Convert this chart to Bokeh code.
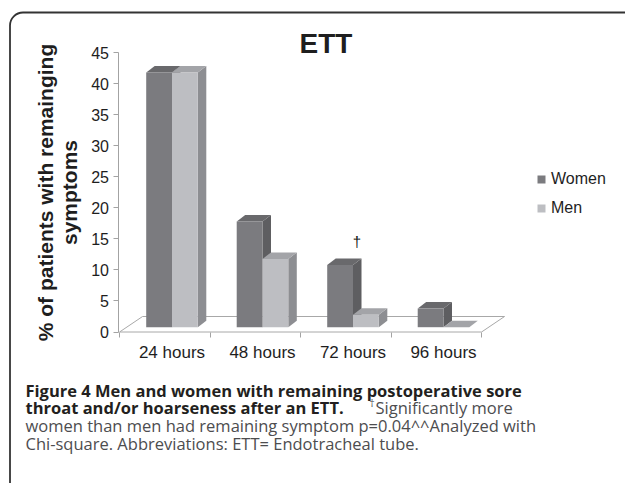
import math
from bokeh.plotting import figure
from bokeh.models import (Range1d, LinearAxis, FixedTicker, Label, BoxAnnotation,
                          Legend, LegendItem, ColumnDataSource)
from bokeh.embed import file_html
from bokeh.resources import INLINE

# ---------------- data ----------------
categories = ["24 hours", "48 hours", "72 hours", "96 hours"]
women = [41, 17, 10, 3]
men = [41, 11, 2, 0]
y_ticks = [0, 5, 10, 15, 20, 25, 30, 35, 40, 45]
series_names = ["Women", "Men"]
title_text = "ETT"
y_label_lines = ["% of patients with remainging", "symptoms"]
sig_mark = "\u2020"
caption_bold_1 = "Figure 4 Men and women with remaining postoperative sore"
caption_bold_2 = "throat and/or hoarseness after an ETT."
caption_reg_2 = "Significantly more"
caption_reg_3 = "women than men had remaining symptom p=0.04^^Analyzed with"
caption_reg_4 = "Chi-square. Abbreviations: ETT= Endotracheal tube."

# ---------------- layout / style ----------------
W, H = 625, 483
PX_X = 90.5               # px per category
PX_Y = 279.5 / 45.0       # px per percent
X0_PAGE = 126.25          # page x of data x = 0
Y0_PAGE = 331.5           # page y of data y = 0

xlo = -X0_PAGE / PX_X
xhi = (W - X0_PAGE) / PX_X
yhi = Y0_PAGE / PX_Y
ylo = -(H - Y0_PAGE) / PX_Y

FONT = "Liberation Sans"
CAP_FONT = "Open Sans"
TXT = "#1e1e1e"
AX = "#a3a3a3"

BAR_W = 0.285
BASE = 4.8 / PX_Y          # bars stand slightly behind floor front edge
SHIFT = 7.2 / PX_X
DDX = 8.5 / PX_X           # bar depth
DDY = 6.5 / PX_Y
FDX = 23.0 / PX_X          # floor depth
FDY = 15.5 / PX_Y
FLOOR_X0 = -SHIFT
YAXIS_AT = (117.5 - X0_PAGE) / PX_X
XAXIS_AT = -(332.0 - Y0_PAGE) / PX_Y

W_FRONT, W_TOP, W_SIDE = "#7b7b7f", "#69696c", "#5e5e61"
M_FRONT, M_TOP, M_SIDE = "#bdbec2", "#a3a4a8", "#8d8e92"


def sx(px):
    return px


def sy(py):
    return H - py


p = figure(width=W, height=H, x_range=Range1d(xlo, xhi), y_range=Range1d(ylo, yhi),
           output_backend="svg", toolbar_location=None,
           min_border_left=0, min_border_right=0, min_border_top=0, min_border_bottom=0,
           x_axis_location=None, y_axis_location=None)
p.xgrid.visible = False
p.ygrid.visible = False
p.outline_line_color = None
p.background_fill_color = "white"
p.border_fill_color = "white"

# y axis
yaxis = LinearAxis(bounds=(0, 45), fixed_location=YAXIS_AT,
                   ticker=FixedTicker(ticks=y_ticks, minor_ticks=[]))
yaxis.axis_line_color = AX
yaxis.major_tick_line_color = AX
yaxis.major_tick_out = 5
yaxis.major_tick_in = 0
yaxis.minor_tick_line_color = None
yaxis.major_label_standoff = 4
yaxis.major_label_text_font = FONT
yaxis.major_label_text_font_size = "16px"
yaxis.major_label_text_color = TXT
p.add_layout(yaxis, "left")

# x axis
n = len(categories)
centers = [i + 0.5 for i in range(n)]
bounds = [FLOOR_X0 + i for i in range(n + 1)]
xaxis = LinearAxis(fixed_location=XAXIS_AT,
                   ticker=FixedTicker(ticks=centers, minor_ticks=bounds),
                   major_label_overrides={c: lab for c, lab in zip(centers, categories)})
xaxis.axis_line_color = None
xaxis.major_tick_line_color = None
xaxis.major_tick_out = 0
xaxis.major_tick_in = 0
xaxis.minor_tick_line_color = AX
xaxis.minor_tick_out = 5
xaxis.minor_tick_in = 0
xaxis.major_label_standoff = 5
xaxis.major_label_text_font = FONT
xaxis.major_label_text_font_size = "17px"
xaxis.major_label_text_color = TXT
p.add_layout(xaxis, "below")

# floor
p.patch([FLOOR_X0, FLOOR_X0 + n, FLOOR_X0 + n + FDX, FLOOR_X0 + FDX],
        [0, 0, FDY, FDY], fill_color="white", line_color="#a8a8a8", line_width=1)


def bar_sources(values, offset):
    left = [i + 0.5 + offset for i in range(len(values))]
    right = [l + BAR_W for l in left]
    top = [BASE + v for v in values]
    front = ColumnDataSource(dict(left=left, right=right, bottom=[BASE] * len(values), top=top))
    top_xs = [[l, r, r + DDX, l + DDX] for l, r in zip(left, right)]
    top_ys = [[t, t, t + DDY, t + DDY] for t in top]
    side_xs = [[r, r, r + DDX, r + DDX] for r in right]
    side_ys = [[BASE, t, t + DDY, BASE + DDY] for t in top]
    return front, (top_xs, top_ys), (side_xs, side_ys)


renderers = []
for vals, off, (cf, ct, cs) in [(women, -BAR_W, (W_FRONT, W_TOP, W_SIDE)),
                               (men, 0.0, (M_FRONT, M_TOP, M_SIDE))]:
    front, (txs, tys), (sxs, sys_) = bar_sources(vals, off)
    p.patches(sxs, sys_, fill_color=cs, line_color=None)
    p.patches(txs, tys, fill_color=ct, line_color=None)
    r = p.quad(left="left", right="right", bottom="bottom", top="top", source=front,
               fill_color=cf, line_color=None)
    renderers.append(r)

legend = Legend(items=[LegendItem(label=nm, renderers=[r]) for nm, r in zip(series_names, renderers)],
                location=(sx(536), sy(218)), orientation="vertical",
                glyph_width=10, glyph_height=10, label_height=20, label_standoff=5,
                spacing=9, padding=0, margin=0,
                label_text_font=FONT, label_text_font_size="16px", label_text_color=TXT,
                border_line_color=None, background_fill_alpha=0)
p.add_layout(legend)


def add_text(x, y, text, font, size, color, style="normal", align="left", angle=0.0):
    p.add_layout(Label(x=sx(x), y=sy(y), x_units="screen", y_units="screen", text=text,
                       angle=angle, text_font=font, text_font_style=style,
                       text_font_size=size, text_color=color,
                       text_align=align, text_baseline="middle"))


# title
add_text(325.5, 43.3, title_text, FONT, "28px", TXT, style="bold", align="center")

# y axis title (two rotated lines)
for cx, line in zip([44.7, 69.2], y_label_lines):
    add_text(cx, 192, line, FONT, "21px", TXT, style="bold", align="center", angle=math.pi / 2)

# significance mark
add_text(356.5, 240.5, sig_mark, FONT, "15px", "#111111", align="center")

# caption
CAP_BOLD = "#231f20"
CAP_REG = "#4d4d4f"
CAP_SIZE = "16.5px"
CX = 25
add_text(CX, 389.5, caption_bold_1, CAP_FONT, CAP_SIZE, CAP_BOLD, style="bold")
add_text(CX, 407.0, caption_bold_2, CAP_FONT, CAP_SIZE, CAP_BOLD, style="bold")
add_text(369.0, 402.0, sig_mark, CAP_FONT, "10px", CAP_REG)
add_text(375.0, 407.0, caption_reg_2, CAP_FONT, CAP_SIZE, CAP_REG)
add_text(CX, 424.5, caption_reg_3, CAP_FONT, CAP_SIZE, CAP_REG)
add_text(CX, 442.5, caption_reg_4, CAP_FONT, CAP_SIZE, CAP_REG)

# rounded frame border (top & left visible)
p.add_layout(BoxAnnotation(left=sx(9.5), right=sx(760), top=sy(12.0), bottom=sy(620),
                           left_units="screen", right_units="screen",
                           top_units="screen", bottom_units="screen",
                           fill_alpha=0, line_color="#333333", line_alpha=1.0, line_width=1.8,
                           border_radius=13))

open("out.html", "w").write(file_html(p, INLINE))
